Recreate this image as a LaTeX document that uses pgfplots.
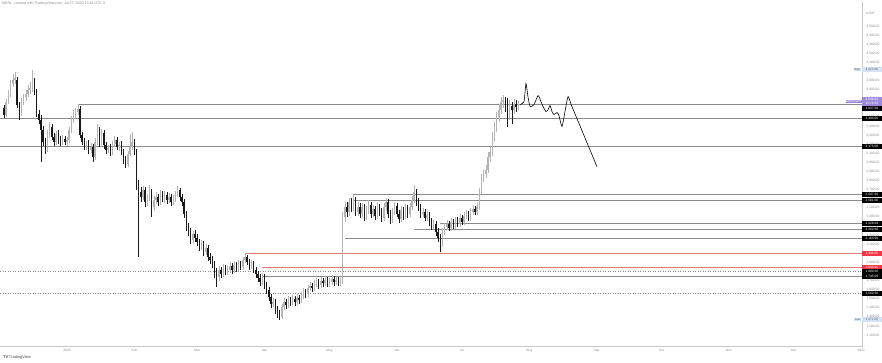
\documentclass[border=0pt]{standalone}
\usepackage{pgfplots}
\pgfplotsset{compat=1.18}
\usepackage{pgfplotstable}
\usepackage{fontspec}
\setmainfont{Liberation Sans}
\definecolor{upc}{HTML}{B4B4B4}
\definecolor{dnc}{HTML}{1A1A1A}
\definecolor{lvl}{HTML}{8A8A8A}
\definecolor{redl}{HTML}{E07A72}
\definecolor{redbox}{HTML}{F23645}
\definecolor{purp}{HTML}{9C8ADB}
\definecolor{hlbox}{HTML}{D3E3F4}
\definecolor{tk}{HTML}{8C8C8C}

\pgfplotstableread{
d o h l c
-29 3604 3637 3494 3527
-28 3527 3703 3505 3670
-27 3670 3802 3648 3758
-26 3758 3912 3725 3868
-25 3868 3978 3835 3912
-24 3912 4000 3868 3934
-23 3912 3945 3604 3637
-22 3637 3670 3472 3538
-21 3538 3714 3516 3670
-20 3670 3758 3637 3725
-19 3725 3802 3681 3758
-18 3758 3857 3725 3802
-17 3802 3890 3758 3824
-16 3824 4022 3780 3868
-15 3890 3934 3747 3780
-14 3780 3813 3505 3538
-13 3538 3582 3428 3472
-12 3472 3527 3010 3362
-11 3362 3406 3186 3230
-10 3230 3274 3098 3153
-9 3153 3362 3120 3318
-8 3318 3450 3274 3395
-7 3395 3428 3252 3285
-6 3285 3329 3186 3230
-5 3230 3351 3197 3318
-4 3318 3362 3208 3252
-3 3252 3296 3186 3230
-2 3230 3307 3197 3263
-1 3263 3296 3197 3230
0 3230 3285 3186 3252
1 3252 3395 3219 3362
2 3362 3516 3329 3472
3 3472 3582 3439 3538
4 3538 3604 3494 3560
5 3560 3648 3527 3593
6 3593 3626 3274 3307
7 3307 3340 3197 3230
8 3230 3274 3142 3175
9 3175 3241 3142 3208
10 3208 3252 3098 3142
11 3142 3219 3109 3175
12 3175 3208 3010 3065
13 3065 3274 3032 3230
14 3230 3428 3197 3362
15 3362 3395 3175 3208
16 3208 3373 3175 3329
17 3329 3362 3153 3197
18 3197 3230 3098 3142
19 3142 3197 3109 3164
20 3164 3208 3076 3120
21 3120 3241 3087 3208
22 3208 3296 3175 3252
23 3252 3285 3142 3175
24 3175 3230 3131 3197
25 3197 3241 3087 3120
26 3120 3153 2988 3032
27 3032 3076 2944 2988
28 2988 3131 2955 3098
29 3098 3318 3076 3175
30 3175 3340 3142 3230
31 3230 3263 3087 3120
32 3120 3153 2702 2757
33 2757 2812 1965 2680
34 2680 2735 2570 2625
35 2625 2746 2592 2702
36 2702 2735 2515 2570
37 2570 2658 2526 2614
38 2614 2757 2581 2680
39 2680 2713 2405 2515
40 2515 2636 2471 2592
41 2592 2680 2548 2625
42 2625 2658 2526 2570
43 2570 2702 2537 2658
44 2658 2691 2570 2603
45 2603 2691 2559 2647
46 2647 2680 2548 2592
47 2592 2669 2559 2625
48 2625 2658 2526 2570
49 2570 2647 2537 2603
50 2603 2691 2570 2658
51 2658 2746 2625 2702
52 2702 2724 2581 2625
53 2625 2658 2526 2570
54 2570 2603 2394 2438
55 2438 2471 2251 2295
56 2295 2339 2196 2240
57 2240 2284 2108 2152
58 2152 2251 2119 2218
59 2218 2262 2130 2174
60 2174 2218 2086 2130
61 2130 2163 2031 2075
62 2075 2152 2042 2108
63 2108 2141 1976 2020
64 2020 2108 1987 2064
65 2064 2097 1921 1965
66 1965 2009 1888 1932
67 1932 1976 1844 1888
68 1888 1921 1734 1800
69 1800 1844 1635 1745
70 1745 1866 1701 1822
71 1822 1855 1734 1778
72 1778 1888 1745 1844
73 1844 1877 1767 1800
74 1800 1866 1767 1822
75 1822 1910 1789 1866
76 1866 1899 1778 1822
77 1822 1921 1789 1877
78 1877 1910 1800 1844
79 1844 1932 1811 1888
80 1888 1921 1822 1855
81 1855 1965 1822 1932
82 1932 2009 1899 1965
83 1965 1987 1877 1910
84 1910 1943 1822 1855
85 1855 1932 1833 1888
86 1888 1921 1789 1822
87 1822 1855 1734 1778
88 1778 1811 1690 1734
89 1734 1778 1646 1690
90 1690 1789 1657 1745
91 1745 1778 1613 1657
92 1657 1690 1558 1602
93 1602 1635 1481 1525
94 1525 1558 1404 1448
95 1448 1514 1415 1470
96 1470 1503 1338 1382
97 1382 1426 1294 1338
98 1338 1382 1272 1305
99 1305 1448 1283 1415
100 1415 1514 1382 1470
101 1470 1503 1393 1437
102 1437 1536 1404 1492
103 1492 1525 1426 1470
104 1470 1547 1437 1503
105 1503 1536 1426 1470
106 1470 1558 1437 1514
107 1514 1547 1448 1492
108 1492 1580 1459 1536
109 1536 1624 1503 1580
110 1580 1613 1514 1558
111 1558 1657 1525 1624
112 1624 1690 1591 1646
113 1646 1679 1580 1624
114 1624 1712 1591 1668
115 1668 1734 1635 1690
116 1690 1723 1613 1657
117 1657 1745 1624 1701
118 1701 1734 1635 1679
119 1679 1756 1646 1712
120 1712 1745 1635 1668
121 1668 1734 1635 1690
122 1690 1767 1657 1723
123 1723 1756 1646 1690
124 1690 1745 1657 1712
125 1712 1745 1646 1679
126 1679 1734 1646 1701
127 1701 2460 1668 2405
128 2405 2570 2350 2515
129 2515 2570 2405 2460
130 2460 2614 2416 2570
131 2570 2614 2460 2515
132 2515 2647 2471 2592
133 2592 2625 2416 2460
134 2460 2570 2416 2515
135 2515 2559 2394 2438
136 2438 2559 2394 2515
137 2515 2548 2361 2405
138 2405 2526 2372 2482
139 2482 2592 2438 2537
140 2537 2570 2394 2438
141 2438 2537 2405 2493
142 2493 2526 2372 2416
143 2416 2570 2383 2515
144 2515 2548 2416 2460
145 2460 2504 2350 2394
146 2394 2559 2361 2515
147 2515 2614 2471 2570
148 2570 2603 2394 2438
149 2438 2482 2328 2372
150 2372 2504 2339 2460
151 2460 2570 2427 2526
152 2526 2559 2405 2438
153 2438 2482 2339 2383
154 2383 2526 2350 2482
155 2482 2515 2372 2416
156 2416 2548 2383 2504
157 2504 2537 2394 2438
158 2438 2559 2405 2515
159 2515 2636 2482 2592
160 2592 2757 2559 2680
161 2680 2713 2526 2570
162 2570 2614 2471 2515
163 2515 2548 2394 2438
164 2438 2504 2405 2460
165 2460 2493 2361 2394
166 2394 2471 2361 2427
167 2427 2460 2306 2350
168 2350 2394 2262 2306
169 2306 2372 2273 2328
170 2328 2361 2196 2240
171 2240 2284 2130 2174
172 2174 2218 2020 2108
173 2108 2284 2075 2240
174 2240 2339 2207 2295
175 2295 2372 2262 2328
176 2328 2361 2251 2284
177 2284 2394 2251 2350
178 2350 2383 2273 2306
179 2306 2405 2273 2372
180 2372 2405 2295 2328
181 2328 2438 2295 2394
182 2394 2427 2317 2350
183 2350 2460 2317 2416
184 2416 2482 2383 2438
185 2438 2471 2361 2394
186 2394 2504 2361 2460
187 2460 2537 2427 2493
188 2493 2526 2427 2460
189 2460 2559 2427 2515
190 2515 2724 2482 2680
191 2680 2878 2647 2834
192 2834 2922 2790 2878
193 2878 2977 2834 2922
194 2922 3120 2889 3065
195 3065 3175 3010 3120
196 3120 3340 3076 3285
197 3285 3450 3230 3395
198 3395 3560 3340 3505
199 3505 3648 3450 3582
200 3582 3725 3538 3670
201 3670 3747 3604 3692
202 3692 3725 3560 3637
203 3670 3714 3395 3538
204 3538 3692 3472 3626
205 3626 3670 3428 3582
206 3582 3703 3538 3648
207 3648 3692 3560 3615
208 3615 3681 3582 3648
}\candles

\begin{document}
\begin{tikzpicture}[x=1pt,y=1pt]
\useasboundingbox (0,0) rectangle (882,362);
\fill[white] (0,0) rectangle (882,362);
\begin{axis}[
  at={(0,17)}, anchor=south west,
  width=862pt, height=345pt, scale only axis,
  xmin=-30.88, xmax=366.36, ymin=975, ymax=4770,
  axis x line*=bottom, axis y line*=right,
  axis line style={draw=black!22, line width=0.5pt},
  tick style={draw=none},
  xtick={0,31,60,91,121,152,182,213,244,274,305,335,366},
  xticklabels={2020,Feb,Mar,Apr,May,Jun,Jul,Aug,Sep,Oct,Nov,Dec,2021},
  xticklabel style={font=\fontsize{3.3}{4}\selectfont, text=tk, yshift=1pt},
  ytick={1100,1200,...,4500},
  scaled y ticks=false,
  yticklabel style={font=\fontsize{3.3}{4}\selectfont, text=tk, xshift=1pt,
    /pgf/number format/.cd, fixed, fixed zerofill, precision=2, 1000 sep={,}, assume math mode=true},
]
% level lines
\addplot[lvl, line width=0.5pt, forget plot] coordinates {(5,3637) (366.36,3637)};
\addplot[lvl, line width=0.5pt, forget plot] coordinates {(-30.88,3483) (366.36,3483)};
\addplot[lvl, line width=0.5pt, forget plot] coordinates {(-30.88,3175) (366.36,3175)};
\addplot[lvl, line width=0.5pt, forget plot] coordinates {(132,2647) (366.36,2647)};
\addplot[lvl, line width=0.5pt, forget plot] coordinates {(132,2581) (366.36,2581)};
\addplot[lvl, line width=0.5pt, forget plot] coordinates {(172,2328) (366.36,2328)};
\addplot[lvl, line width=0.5pt, forget plot] coordinates {(160,2262) (366.36,2262)};
\addplot[lvl, line width=0.5pt, forget plot] coordinates {(128,2163) (366.36,2163)};
\addplot[redl, line width=0.5pt, forget plot] coordinates {(82,1998) (366.36,1998)};
\addplot[redl, line width=0.5pt, forget plot] coordinates {(90,1844) (366.36,1844)};
\addplot[lvl, line width=0.5pt, dotted, forget plot] coordinates {(-30.88,1800) (366.36,1800)};
\addplot[lvl, line width=0.5pt, forget plot] coordinates {(90,1745) (366.36,1745)};
\addplot[lvl, line width=0.5pt, dotted, forget plot] coordinates {(-30.88,1562) (366.36,1562)};
% wicks
\addplot[upc, line width=0.5pt, quiver={u=0, v=\thisrow{h}-\thisrow{l}},
  restrict expr to domain={\thisrow{c}-\thisrow{o}}{0:100000}, forget plot]
  table[x=d, y=l] {\candles};
\addplot[dnc, line width=0.5pt, quiver={u=0, v=\thisrow{h}-\thisrow{l}},
  restrict expr to domain={\thisrow{c}-\thisrow{o}}{-100000:-0.5}, forget plot]
  table[x=d, y=l] {\candles};
% bodies
\addplot[upc, line width=1.5pt, quiver={u=0, v=\thisrow{c}-\thisrow{o}},
  restrict expr to domain={\thisrow{c}-\thisrow{o}}{0:100000}, forget plot]
  table[x=d, y=o] {\candles};
\addplot[dnc, line width=1.5pt, quiver={u=0, v=\thisrow{c}-\thisrow{o}},
  restrict expr to domain={\thisrow{c}-\thisrow{o}}{-100000:-0.5}, forget plot]
  table[x=d, y=o] {\candles};
% projection
\addplot[black, line width=0.6pt, smooth, tension=0.35, forget plot] coordinates {
(208.8,3637) (210.6,3670) (211.5,3868) (212.4,3725) (213.4,3615) (215.2,3637)
(217.1,3736) (218.4,3670) (219.4,3615) (220.7,3560) (221.7,3582) (222.6,3626)
(223.5,3560) (224.4,3527) (225.8,3549) (226.7,3516) (228.1,3395) (229.5,3560)
(230.9,3725) (232.7,3615) (244.2,2955)};
% label anchors
\coordinate (L1) at (axis cs:366.36,3637);
\coordinate (L2) at (axis cs:366.36,3483);
\coordinate (L3) at (axis cs:366.36,3175);
\coordinate (L4) at (axis cs:366.36,2647);
\coordinate (L5) at (axis cs:366.36,2581);
\coordinate (L6) at (axis cs:366.36,2328);
\coordinate (L7) at (axis cs:366.36,2262);
\coordinate (L8) at (axis cs:366.36,2163);
\coordinate (L9) at (axis cs:366.36,1998);
\coordinate (L10) at (axis cs:366.36,1844);
\coordinate (L11) at (axis cs:366.36,1800);
\coordinate (L12) at (axis cs:366.36,1745);
\coordinate (L13) at (axis cs:366.36,1562);
\coordinate (LC) at (axis cs:366.36,3648);
\coordinate (LH) at (axis cs:366.36,4022);
\coordinate (LL) at (axis cs:366.36,1272);
\end{axis}
\tikzset{lab/.style={anchor=west, inner sep=0pt, minimum width=19.5pt, minimum height=5pt,
  font=\fontsize{3.2}{4}\selectfont, text=white, fill=black}}
\node[lab] at ([yshift=-4pt]L1) {3,637.00};
\node[lab] at (L2) {3,483.00};
\node[lab] at (L3) {3,175.00};
\node[lab] at (L4) {2,647.00};
\node[lab] at (L5) {2,581.00};
\node[lab] at (L6) {2,328.00};
\node[lab] at (L7) {2,262.00};
\node[lab] at (L8) {2,163.00};
\node[lab, fill=redbox] at (L9) {1,998.00};
\node[lab, fill=redbox] at (L10) {1,844.00};
\node[lab] at (L11) {1,800.00};
\node[lab] at (L12) {1,745.00};
\node[lab] at (L13) {1,562.00};
\node[lab, fill=purp, minimum height=8.5pt, align=center, font=\fontsize{3.2}{3.8}\selectfont] at ([yshift=2pt]LC) {3,648.00\\10:16:32};
\node[anchor=east, inner sep=0.5pt, fill=purp, text=white, font=\fontsize{3}{3.5}\selectfont] at ([yshift=2pt]LC) {MKRUSDT};
\node[lab, fill=hlbox, text=black!60] at (LH) {4,022.00};
\node[anchor=east, inner sep=0.5pt, fill=hlbox, text=black!60, font=\fontsize{3}{3.5}\selectfont] at ([xshift=-1pt]LH) {High};
\node[lab, fill=hlbox, text=black!60] at (LL) {1,272.00};
\node[anchor=east, inner sep=0.5pt, fill=hlbox, text=black!60, font=\fontsize{3}{3.5}\selectfont] at ([xshift=-1pt]LL) {Low};
\node[anchor=west, text=tk, font=\fontsize{3.2}{4}\selectfont, inner sep=0pt] at (866,349) {USDT};
\node[anchor=north west, text=tk, font=\fontsize{3.6}{4}\selectfont, inner sep=0pt] at (2,360) {MKRL, created with TradingView.com, Jul 27, 2020 13:44 UTC-3};
\node[anchor=west, text=black!70, font=\fontsize{4}{4.5}\selectfont, inner sep=0pt] at (3,5) {\textbf{TV}\,TradingView};
\end{tikzpicture}
\end{document}
